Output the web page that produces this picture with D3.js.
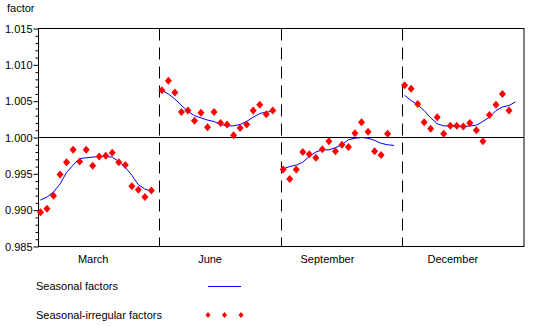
<!DOCTYPE html>
<html><head><meta charset="utf-8">
<script src="https://cdn.jsdelivr.net/npm/d3@7"></script>
<style>
html,body{margin:0;padding:0;background:#fff;}
svg{display:block;}
text{font-family:"Liberation Sans",Arial,sans-serif;font-size:11px;fill:#000;}
</style></head><body>
<svg id="chart" width="534" height="326"></svg>
<script>
const months = ["March", "June", "September", "December"];
const yTicksMajor = [0.985, 0.990, 0.995, 1.000, 1.005, 1.010, 1.015];
const yTicksMinor = [0.986,0.987,0.988,0.989,0.991,0.992,0.993,0.994,0.996,0.997,0.998,0.999,1.001,1.002,1.003,1.004,1.006,1.007,1.008,1.009,1.011,1.012,1.013,1.014];

// seasonal-irregular factors (points)
const siMar = [0.9897,0.9902,0.9920,0.9949,0.9966,0.9983,0.9967,0.9983,0.9961,0.9974,0.9975,0.9979,0.9966,0.9962,0.9933,0.9928,0.9918,0.9927];
const siJun = [1.0065,1.0078,1.0062,1.0035,1.0037,1.0023,1.0034,1.0014,1.0035,1.0020,1.0018,1.0003,1.0013,1.0018,1.0037,1.0045,1.0032,1.0037];
const siSep = [0.9956,0.9943,0.9956,0.9980,0.9977,0.9972,0.9984,0.9995,0.9981,0.9990,0.9987,1.0006,1.0021,1.0008,0.9981,0.9976,1.0005];
const siDec = [1.0072,1.0067,1.0046,1.0021,1.0012,1.0028,1.0005,1.0016,1.0016,1.0015,1.0020,1.0010,0.9995,1.0031,1.0045,1.0060,1.0037];

// seasonal factors (line)
const sfMar = [0.9914,0.9918,0.9925,0.9936,0.9952,0.9962,0.9971,0.9972,0.9973,0.9974,0.9974,0.9973,0.9967,0.9959,0.9948,0.9935,0.9929,0.9926];
const sfJun = [1.0065,1.0060,1.0053,1.0044,1.0036,1.0030,1.0027,1.0024,1.0022,1.0018,1.0016,1.0016,1.0018,1.0022,1.0028,1.0033,1.0035,1.0036];
const sfSep = [0.9957,0.9960,0.9962,0.9966,0.9974,0.9980,0.9983,0.9983,0.9986,0.9990,0.9997,0.9999,1.0000,0.9999,0.9996,0.9992,0.9990,0.9989];
const sfDec = [1.0058,1.0051,1.0045,1.0037,1.0027,1.0019,1.0016,1.0016,1.0015,1.0015,1.0016,1.0017,1.0022,1.0028,1.0037,1.0042,1.0044,1.0049];

const legendLabels = ["Seasonal factors", "Seasonal-irregular factors"];

const siAll = [siMar, siJun, siSep, siDec];
const sfAll = [sfMar, sfJun, sfSep, sfDec];

// layout
const L = 38.5, R = 524, T = 28.5, B = 246.5;
const labelNudge = [-6, -10.5, -14.5, -10.5];

const svg = d3.select("#chart");
const y = d3.scaleLinear().domain([0.985, 1.015]).range([B, T]);
const panel = d3.scaleLinear().domain([0, 4]).range([L, R]);
const crisp = v => Math.round(v - 0.5) + 0.5;

// y axis minor ticks
svg.append("g").attr("transform", `translate(${L},0)`)
  .call(d3.axisLeft(y).tickValues(yTicksMinor).tickSize(3).tickFormat(""))
  .call(g => g.select(".domain").remove());
// y axis major ticks
svg.append("g").attr("transform", `translate(${L},0)`)
  .call(d3.axisLeft(y).tickValues(yTicksMajor).tickSize(5).tickPadding(1).tickFormat(d3.format(".3f")))
  .call(g => g.select(".domain").remove())
  .call(g => g.selectAll("text").style("font-size", "11px").attr("fill", "#000"));

svg.selectAll(".tick line").attr("stroke", "#000");

svg.append("text").attr("x", 7).attr("y", 12).text("factor");

// frame
svg.append("rect").attr("x", L).attr("y", T).attr("width", R - L).attr("height", B - T)
  .attr("fill", "none").attr("stroke", "#000").attr("stroke-width", 1);
// 1.000 line
svg.append("line").attr("x1", L).attr("x2", R).attr("y1", y(1)).attr("y2", y(1))
  .attr("stroke", "#000");

// dividers
svg.selectAll("line.div").data([1, 2, 3]).enter().append("line").attr("class", "div")
  .attr("x1", d => crisp(panel(d))).attr("x2", d => crisp(panel(d)))
  .attr("y1", T).attr("y2", B)
  .attr("stroke", "#000").attr("stroke-dasharray", "12,7");

// month labels
svg.selectAll("text.month").data(months).enter().append("text").attr("class", "month")
  .attr("x", (d, i) => (panel(i) + panel(i + 1)) / 2 + labelNudge[i])
  .attr("y", 262.5).attr("text-anchor", "middle").text(d => d);

const diamond = (cx, cy, hx, hy) => `M${cx},${cy - hy}L${cx + hx},${cy}L${cx},${cy + hy}L${cx - hx},${cy}Z`;

months.forEach((m, p) => {
  const x = d3.scaleLinear().domain([-0.3, 18.3]).range([panel(p), panel(p + 1)]);
  const line = d3.line().x((d, i) => x(i)).y(d => y(d));
  svg.append("path").datum(sfAll[p]).attr("d", line)
    .attr("fill", "none").attr("stroke", "#0000ff").attr("stroke-width", 1);
  svg.append("g").selectAll("path").data(siAll[p]).enter().append("path")
    .attr("d", (d, i) => diamond(x(i), y(d), 3.5, 4))
    .attr("fill", "#ff0000");
});

// legend
svg.append("text").attr("x", 36).attr("y", 290).text(legendLabels[0]);
svg.append("line").attr("x1", 208).attr("x2", 241).attr("y1", 286.5).attr("y2", 286.5)
  .attr("stroke", "#0000ff");
svg.append("text").attr("x", 36).attr("y", 319).text(legendLabels[1]);
svg.selectAll("path.leg").data([208, 224.5, 241]).enter().append("path").attr("class", "leg")
  .attr("d", d => diamond(d, 315, 2.5, 3)).attr("fill", "#ff0000");
</script>
</body></html>
